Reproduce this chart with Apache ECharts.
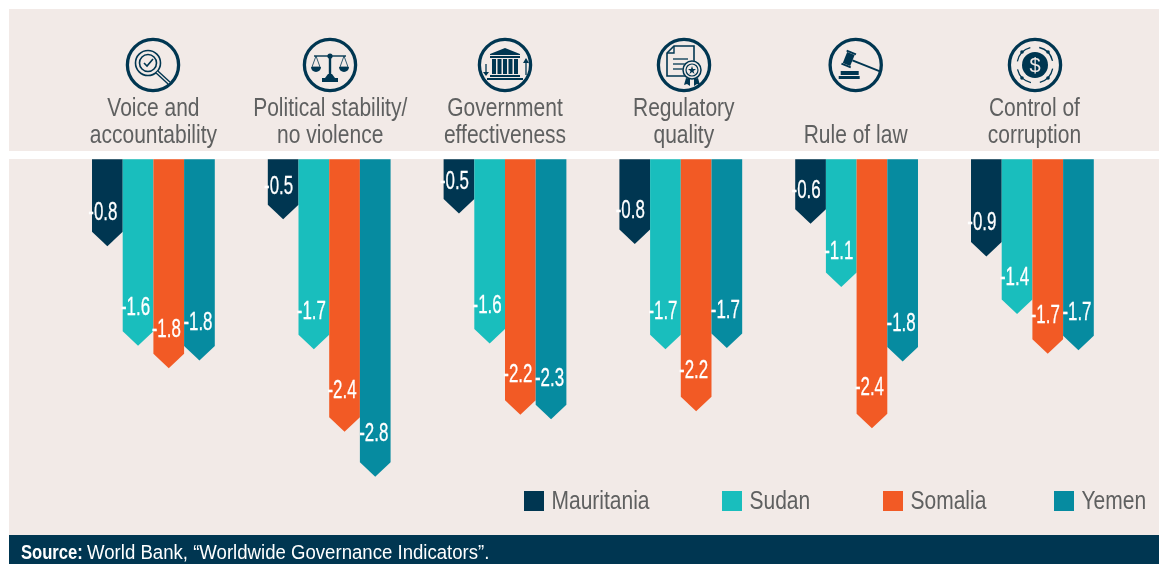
<!DOCTYPE html>
<html><head><meta charset="utf-8">
<style>html,body{margin:0;padding:0;background:#fff}#c{width:1159px;height:564px}</style>
<script src="https://cdn.jsdelivr.net/npm/echarts@6/dist/echarts.min.js"></script>
</head><body><div id="c"></div>
<script>
const categories = ['Voice and\naccountability','Political stability/\nno violence','Government\neffectiveness','Regulatory\nquality','Rule of law','Control of\ncorruption'];
const countries = ['Mauritania','Sudan','Somalia','Yemen'];
const mauritania = [-0.77,-0.53,-0.48,-0.75,-0.57,-0.86];
const sudan      = [-1.65,-1.68,-1.63,-1.68,-1.13,-1.37];
const somalia    = [-1.85,-2.41,-2.26,-2.23,-2.38,-1.72];
const yemen      = [-1.78,-2.81,-2.30,-1.67,-1.79,-1.69];
const mauritaniaLabels = ['-0.8','-0.5','-0.5','-0.8','-0.6','-0.9'];
const sudanLabels      = ['-1.6','-1.7','-1.6','-1.7','-1.1','-1.4'];
const somaliaLabels    = ['-1.8','-2.4','-2.2','-2.2','-2.4','-1.7'];
const yemenLabels      = ['-1.8','-2.8','-2.3','-1.7','-1.8','-1.7'];
const colors = ['#003651','#19BEBD','#F25A25','#068BA0'];
const sourceBold = 'Source:';
const sourceText = 'World Bank, “Worldwide Governance Indicators”.';

const FONT = '"Liberation Sans",sans-serif';
const DARK = '#003651', PANEL = '#F2EAE7', TXT = '#5F6060';
const labelShift=[4.5,2.5,2.5,1.5];

function makeSeries(name, idx, vals, labels){
  return {
    type:'custom', name, coordinateSystem:'cartesian2d', itemStyle:{color:colors[idx]},
    data: vals.map((v,i)=>[i,v]),
    encode:{x:0,y:1},
    renderItem(params, api){
      const cat=api.value(0), val=api.value(1);
      const base=api.coord([cat,0]), tip=api.coord([cat,val]);
      const band=api.size([1,0])[0];
      const w=band*0.1746;
      const l=base[0]-2*w+idx*w, r=l+w, mid=(l+r)/2;
      const sh=tip[1]-14.5;
      return {type:'group',children:[
        {type:'polygon',shape:{points:[[l,base[1]],[r,base[1]],[r,sh],[mid,tip[1]],[l,sh]]},style:{fill:colors[idx]}},
        {type:'text',x:mid-labelShift[idx],y:tip[1]-30-4.5*Math.abs(val),scaleX:0.65,
          style:{text:labels[params.dataIndex],fill:'#fff',font:'26px '+FONT,align:'center',verticalAlign:'middle',stroke:'#fff',lineWidth:0.3}}
      ]};
    }
  };
}

/* category captions follow the category scale; the reference nudges some of them off the group centre */
const catNudge=[0,1,0,3,-1,2];
const captionSeries={
  type:'custom',name:'captions',coordinateSystem:'cartesian2d',silent:true,
  data:categories.map((c,i)=>[i,0]),encode:{x:0,y:1},
  renderItem(params,api){
    const i=params.dataIndex, p=api.coord([i,0]);
    const lines=categories[i].split('\n');
    const children=lines.map((t,k)=>({type:'text',x:p[0]+catNudge[i],y:136-(lines.length-1-k)*27,scaleX:0.84,
      style:{text:t,fill:TXT,font:'25px '+FONT,align:'center',verticalAlign:'middle'}}));
    return {type:'group',children};
  }
};

/* ---- decorative icons ---- */
const C=DARK;
const st=(w)=>({stroke:C,lineWidth:w||1.5,fill:'none'});
const fl={fill:C};
const R=(x,y,w,h)=>({type:'rect',shape:{x,y,width:w,height:h},style:fl});
const Pl=(pts,w)=>({type:'polyline',shape:{points:pts},style:st(w)});
const Pg=(pts,f)=>({type:'polygon',shape:{points:pts},style:{fill:f||C}});
const Ci=(x,y,r,w)=>({type:'circle',shape:{cx:x,cy:y,r},style:st(w)});
const CiF=(x,y,r,f)=>({type:'circle',shape:{cx:x,cy:y,r},style:{fill:f||C}});
const Bowl=(x,y,r)=>({type:'sector',shape:{cx:x,cy:y,r,startAngle:0,endAngle:Math.PI},style:fl});
const icons=[
 [153,[Ci(-5,-2,12.5,1.6),Ci(-5,-2,8.5,1.6),Pl([[-9,-2],[-6,1],[0,-6]],1.6),Pl([[4,7],[16,18]],4),{type:'line',shape:{x1:4,y1:7,x2:16,y2:18},style:{stroke:PANEL,lineWidth:1.2}}]],
 [330,[R(-8,13,16,4),R(-1.2,-9,2.4,20),Pg([[-5,13],[5,13],[2,9],[-2,9]]),Pl([[-16,-9],[16,-9]],1.4),CiF(0,-9,2.6),
   Pl([[-14,-9],[-18,2],[-10,2],[-14,-9]],.8),Pl([[14,-9],[10,2],[18,2],[14,-9]],.8),
   Bowl(-14,2,5),Bowl(14,2,5)]],
 [505,[Pg([[-15,-11],[0,-17],[15,-11],[15,-10],[-15,-10]]),R(-15,-9,30,2),R(-13,-6,4,15),R(-7.5,-6,4,15),R(-2,-6,4,15),R(3.5,-6,4,15),R(9,-6,4,15),R(-15,10,30,2),R(-18,13,36,2),
   Pl([[-19,-1],[-19,9]],1.3),Pg([[-22,7],[-16,7],[-19,11]]),Pl([[21,10],[21,-3]],1.3),Pg([[18,-2],[24,-2],[21,-7]])]],
 [684,[Pl([[5,-19],[-10,-19],[-17,-12],[-17,11],[4,11]],1.6),Pl([[5,-19],[10,-19],[10,-3]],1.6),Pl([[-10,-19],[-10,-12],[-17,-12]],1.4),Pl([[-11,-6],[4,-6]],1.3),Pl([[-11,-1],[2,-1]],1.3),Pl([[-11,4],[-1,4]],1.3),
   CiF(8,5,9.5,PANEL),Ci(8,5,9,1.5),Ci(8,5,6,1.2),Pg([[2,13],[6,14],[6,21],[3,19],[0,20]]),Pg([[10,14],[14,13],[16,20],[13,19],[10,21]]),Pg([[8,1],[9,4],[12,4],[9.5,6],[10.5,9],[8,7],[5.5,9],[6.5,6],[4,4],[7,4]])]],
 [855.7,[{type:'group',x:-7,y:-6,rotation:-0.38,children:[R(-4,-6,8,12),R(-5,-8,10,2),R(-5,6,10,2),R(4,-1,29,1.9)]},R(-15,6,18,4),R(-17,11,21,3)]],
 [1035,[CiF(0,0,13),{type:'text',x:0,y:1,style:{text:'$',fill:PANEL,font:'20px "Liberation Sans"',align:'center',verticalAlign:'middle'}},
   ...[[0.2,1.3],[1.8,2.9],[3.35,4.45],[4.95,6.05]].map(a=>({type:'arc',shape:{cx:0,cy:0,r:18,startAngle:a[0],endAngle:a[1]},style:{stroke:C,lineWidth:1.3,fill:'none'}})),
   CiF(13,-13,1.8),CiF(-13,-13,1.8),CiF(13,13,1.8),CiF(-13,13,1.8)]]
];

const legendX=[524,722,883,1054];
const graphics=[
  {type:'rect',shape:{x:9,y:9,width:1150,height:142},style:{fill:PANEL},silent:true},
  {type:'rect',shape:{x:9,y:159,width:1150,height:376},style:{fill:PANEL},silent:true},
  {type:'rect',shape:{x:9,y:535,width:1150,height:29},style:{fill:DARK},silent:true},
  {type:'text',x:21,y:553.5,scaleX:0.83,silent:true,style:{text:sourceBold,fill:'#fff',font:'bold 20px '+FONT,verticalAlign:'middle'}},
  {type:'text',x:87,y:553.5,scaleX:0.93,silent:true,style:{text:sourceText,fill:'#fff',font:'20px '+FONT,verticalAlign:'middle'}},
  ...icons.map(([x,ch])=>({type:'group',x,y:65,silent:true,children:[Ci(0,0,25.6,3.3),...ch]})),
  ...countries.flatMap((n,i)=>[
    {type:'rect',shape:{x:legendX[i],y:491,width:20,height:20},style:{fill:colors[i]},silent:true},
    {type:'text',x:legendX[i]+27.5,y:502,scaleX:0.84,silent:true,style:{text:n,fill:TXT,font:'25px '+FONT,verticalAlign:'middle'}}
  ])
];

const option={
  animation:false,
  backgroundColor:'#fff',
  grid:{left:65.5,width:1054.8,top:159.3,height:339},
  xAxis:{type:'category',position:'top',data:categories,
    axisLine:{show:false},axisTick:{show:false},splitLine:{show:false},axisLabel:{show:false}},
  yAxis:{type:'value',min:-3,max:0,show:false},
  graphic:{elements:graphics},
  series:[makeSeries(countries[0],0,mauritania,mauritaniaLabels),
          makeSeries(countries[1],1,sudan,sudanLabels),
          makeSeries(countries[2],2,somalia,somaliaLabels),
          makeSeries(countries[3],3,yemen,yemenLabels),
          captionSeries]
};
echarts.init(document.getElementById('c'),null,{renderer:'canvas'}).setOption(option);
</script></body></html>
